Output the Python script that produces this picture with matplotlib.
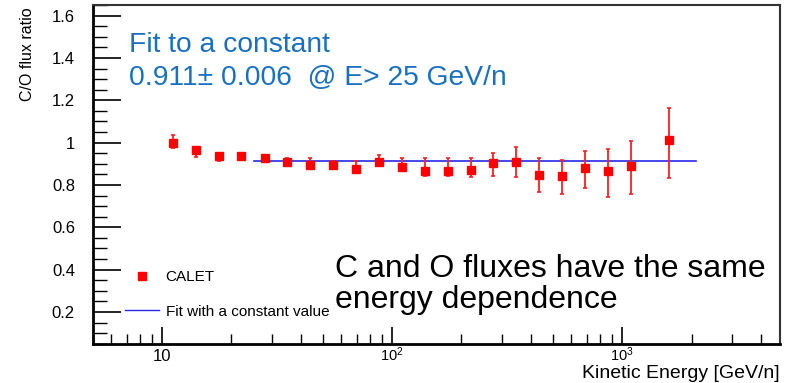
"""CALET C/O flux ratio vs kinetic energy, ROOT-like style."""

import matplotlib
matplotlib.use("Agg")
import matplotlib.pyplot as plt
from matplotlib.lines import Line2D
from matplotlib.transforms import ScaledTranslation
from matplotlib.ticker import FixedLocator, LogLocator, NullFormatter, MultipleLocator

plt.rcParams["font.family"] = ["Liberation Sans", "DejaVu Sans"]
plt.rcParams["mathtext.fontset"] = "custom"
plt.rcParams["mathtext.rm"] = "Liberation Sans"
plt.rcParams["mathtext.default"] = "regular"

# data
energy = [11.1, 14.0, 17.6, 22.1, 27.9, 35.0, 44.0, 55.4, 69.5, 87.5, 110,
          139, 174, 219, 275, 346, 436, 548, 689, 869, 1092, 1596]
ratio = [0.998, 0.967, 0.939, 0.935, 0.926, 0.910, 0.896, 0.896, 0.875, 0.908, 0.887,
         0.866, 0.866, 0.872, 0.902, 0.910, 0.847, 0.841, 0.879, 0.864, 0.889, 1.011]
err_up = [0.036, 0.012, 0.012, 0.008, 0.016, 0.015, 0.030, 0.015, 0.036, 0.034, 0.042,
          0.063, 0.060, 0.053, 0.050, 0.069, 0.080, 0.077, 0.082, 0.105, 0.120, 0.154]
err_lo = [0.022, 0.036, 0.025, 0.008, 0.012, 0.015, 0.020, 0.015, 0.020, 0.019, 0.021,
          0.025, 0.025, 0.033, 0.058, 0.074, 0.080, 0.085, 0.093, 0.119, 0.132, 0.180]

fit_value = 0.911
fit_range = [25, 2100]

xticks = [10, 100, 1000]
xticklabels = ["10", "$10^{2}$", "$10^{3}$"]
yticks = [0.2, 0.4, 0.6, 0.8, 1.0, 1.2, 1.4, 1.6]

fig = plt.figure(figsize=(7.9, 3.83), dpi=100)
ax = fig.add_axes([93 / 790, 1 - 343.7 / 383, 687 / 790, 338.7 / 383])

ax.errorbar(energy, ratio, yerr=[err_lo, err_up], fmt="s", color="#ff0000",
            ecolor="#ff2020", elinewidth=1.3, capsize=1.6, capthick=1.2,
            markersize=5.3, zorder=3)
ax.plot(fit_range, [fit_value, fit_value], color="#2828e8", lw=1.2, zorder=2)

ax.set_xscale("log")
ax.set_xlim(5, 4850)
ax.set_ylim(0.05, 1.65)

ax.xaxis.set_major_locator(FixedLocator(xticks))
ax.set_xticklabels(xticklabels)
ax.xaxis.set_minor_locator(LogLocator(base=10, subs=range(2, 10)))
ax.xaxis.set_minor_formatter(NullFormatter())
ax.yaxis.set_major_locator(FixedLocator(yticks))
ax.set_yticklabels([f"{v:g}" for v in yticks])
ax.yaxis.set_minor_locator(MultipleLocator(0.05))

ax.tick_params(axis="both", which="both", direction="in", labelsize=12, colors="black")
ax.tick_params(axis="y", which="major", length=20, width=1.2, pad=13)
ax.tick_params(axis="y", which="minor", length=10, width=1.0)
ax.tick_params(axis="x", which="major", length=12, width=1.2, pad=4)
ax.tick_params(axis="x", which="minor", length=7, width=1.0)
# ROOT draws the power-of-ten labels a bit smaller and higher than the plain "10"
for lab in ax.get_xticklabels()[1:]:
    lab.set_fontsize(10.5)
    lab.set_transform(lab.get_transform()
                      + ScaledTranslation(0, 2.5 / 72, fig.dpi_scale_trans))
for side in ["left", "bottom"]:
    ax.spines[side].set_linewidth(2.0)
for side in ["top", "right"]:
    ax.spines[side].set_linewidth(1.5)
    ax.spines[side].set_color("#333333")

handles = [
    Line2D([], [], ls="none", marker="s", color="#ff0000", markersize=5.3),
    Line2D([], [], color="#2828e8", lw=1.0),
]
ax.legend(handles, ["CALET", "Fit with a constant value"], loc="center left",
          bbox_to_anchor=(0.0466, 0.146), frameon=False, fontsize=11,
          borderpad=0, borderaxespad=0, handlelength=2.2, handletextpad=0.45,
          labelspacing=1.35)

blue = "#1a70c0"
ax.text(0.052, 0.862, "Fit to a constant", color=blue, fontsize=20.3,
        transform=ax.transAxes, va="baseline")
ax.text(0.052, 0.764, "0.911\u00b1 0.006  @ E> 25 GeV/n", color=blue, fontsize=20.3,
        transform=ax.transAxes, va="baseline")
ax.text(0.352, 0.198, "C and O fluxes have the same", color="black", fontsize=23,
        transform=ax.transAxes, va="baseline")
ax.text(0.352, 0.105, "energy dependence", color="black", fontsize=23,
        transform=ax.transAxes, va="baseline")

fig.text(780 / 790, 1 - 377.5 / 383, "Kinetic Energy [GeV/n]", ha="right",
         va="baseline", fontsize=14)
fig.text(28 / 790, 1 - 7 / 383, "C/O flux ratio", rotation=90, ha="center",
         va="top", fontsize=11.5)

fig.savefig("out.png", dpi=100)
